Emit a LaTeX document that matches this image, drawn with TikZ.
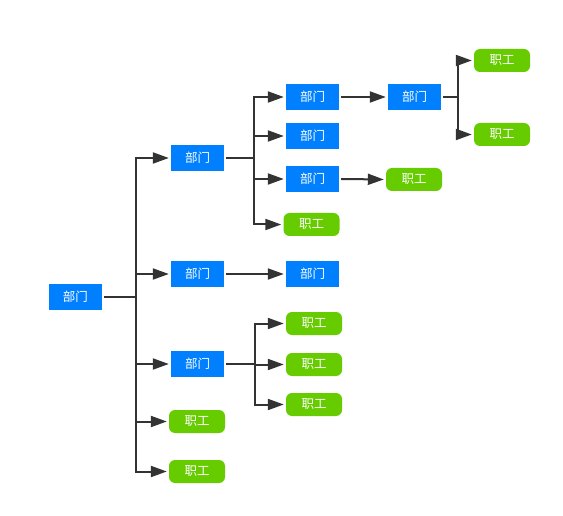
\documentclass[tikz,border=0pt]{standalone}
\usepackage{fontspec}
\newfontfamily\cjk{Noto Sans CJK SC}
\usetikzlibrary{arrows.meta}
\definecolor{deptblue}{HTML}{0080FF}
\definecolor{staffgreen}{HTML}{66CC00}
\definecolor{linegray}{HTML}{333333}
\begin{document}
\begin{tikzpicture}[x=1pt,y=-1pt,
  dept/.style={fill=deptblue,minimum width=53pt,minimum height=26pt,inner sep=0pt,text=white,font=\cjk\fontsize{12.5}{14}\selectfont},
  staff/.style={fill=staffgreen,rounded corners=6pt,minimum width=56pt,minimum height=23pt,inner sep=0pt,text=white,font=\cjk\fontsize{12.5}{14}\selectfont},
  conn/.style={draw=linegray,line width=2pt},
  arr/.style={conn,-{Triangle[length=16pt,width=11pt]},shorten >=2pt}]
\useasboundingbox (0,0) rectangle (563,516);
% nodes
\node[dept] (r) at (75.5,297) {部门};
\node[dept] (a) at (197.5,158) {部门};
\node[dept] (b) at (197.5,274) {部门};
\node[dept] (c) at (197.5,364) {部门};
\node[staff] (d) at (197,421.5) {职工};
\node[staff] (e) at (197,471.5) {职工};
\node[dept] (a1) at (312.5,97) {部门};
\node[dept] (a2) at (312.5,136) {部门};
\node[dept] (a3) at (312.5,179) {部门};
\node[staff] (a4) at (311.5,224.5) {职工};
\node[dept] (a11) at (414.5,97) {部门};
\node[staff] (a111) at (502,60.5) {职工};
\node[staff] (a112) at (502,134.5) {职工};
\node[staff] (a31) at (414,179.5) {职工};
\node[dept] (b1) at (312.5,274) {部门};
\node[staff] (c1) at (314,323.5) {职工};
\node[staff] (c2) at (314,364.5) {职工};
\node[staff] (c3) at (314,404.5) {职工};
% junctions
\coordinate (j0) at (136,297);
\coordinate (ja) at (254,158);
\coordinate (ja1) at (458,97);
\coordinate (jc) at (255,364);
% connectors
\draw[conn] ([xshift=2pt]r.east) -- (j0);
\foreach \t in {a,b,c,d,e} \draw[arr] (j0) |- (\t.west);
\draw[conn] ([xshift=2pt]a.east) -- (ja);
\foreach \t in {a1,a2,a3,a4} \draw[arr] (ja) |- (\t.west);
\draw[arr] ([xshift=2pt]a1.east) -- (a11.west);
\draw[arr] ([xshift=2pt]a3.east) -- (a31.west);
\draw[conn] ([xshift=2pt]a11.east) -- (ja1);
\foreach \t in {a111,a112} \draw[arr] (ja1) |- (\t.west);
\draw[arr] ([xshift=2pt]b.east) -- (b1.west);
\draw[conn] ([xshift=2pt]c.east) -- (jc);
\foreach \t in {c1,c2,c3} \draw[arr] (jc) |- (\t.west);
\end{tikzpicture}
\end{document}
